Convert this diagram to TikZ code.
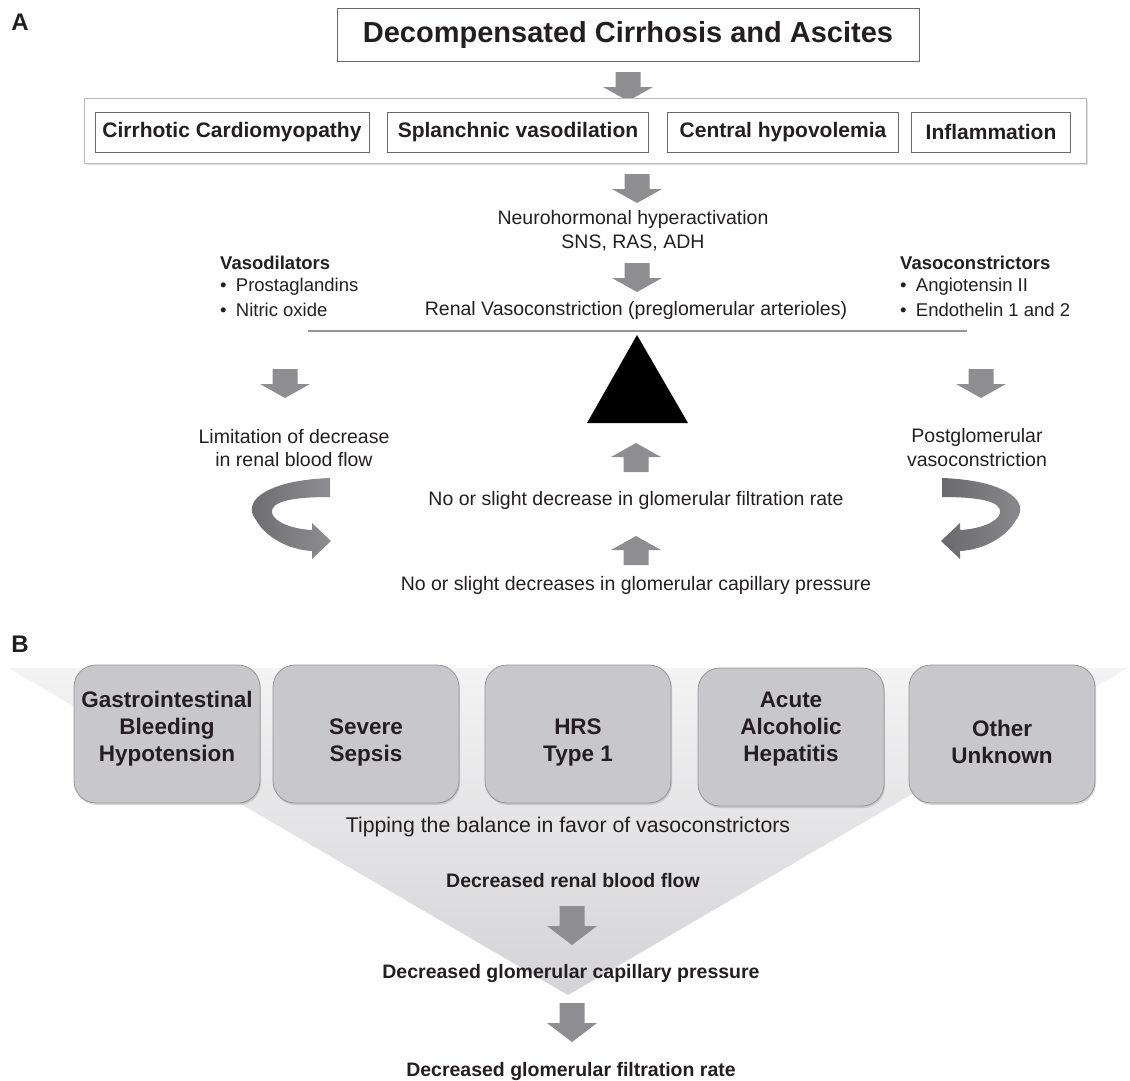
\documentclass[tikz,border=0pt]{standalone}
\usepackage{fontspec}
\setmainfont{Liberation Sans}
\usetikzlibrary{shadows}
\definecolor{ink}{RGB}{35,31,32}
\definecolor{arr}{RGB}{142,142,144}
\definecolor{arrdark}{RGB}{105,105,107}
\definecolor{frame}{RGB}{105,105,105}
\definecolor{cont}{RGB}{185,185,185}
\definecolor{rule}{RGB}{150,150,150}
\definecolor{cause}{RGB}{200,200,202}
\definecolor{causeb}{RGB}{150,150,152}
\definecolor{funtop}{RGB}{243,243,244}
\definecolor{funbot}{RGB}{212,212,214}
\newcommand{\fsz}[2]{\fontsize{#1}{#2}\selectfont}

\tikzset{
  every node/.style={text=ink, inner sep=0pt},
  lbl/.style={font=\fsz{24}{28}\bfseries},
  headbox/.style={draw=frame, line width=1pt, minimum width=582, minimum height=53, font=\fsz{29}{34}\bfseries},
  factor/.style={draw=frame, line width=.8pt, minimum height=40, font=\fsz{21}{25}\bfseries},
  plain/.style={font=\fsz{19.5}{24}},
  hdr/.style={anchor=west, font=\fsz{18.5}{22}\bfseries},
  item/.style={anchor=west, font=\fsz{18.5}{22}},
  cause/.style={draw=causeb, line width=.8pt, fill=cause, rounded corners=22, minimum width=186, minimum height=138,
    drop shadow={shadow xshift=1pt, shadow yshift=-2pt, opacity=.3}},
  causetxt/.style={align=center, font=\fsz{22.5}{27}\bfseries},
  result/.style={font=\fsz{19.5}{24}\bfseries},
  pics/dnarrow/.style 2 args={code={
    \fill[arr] (-12.5,0) -- (12.5,0) -- (12.5,#1-#2) -- (25,#1-#2) -- (0,#1) -- (-25,#1-#2) -- (-12.5,#1-#2) -- cycle;}},
  pics/turnarrow/.style={code={
    \shade[left color=arrdark, right color=arr] (77,0) .. controls (17,2) and (-13,22) .. (3,42)
      .. controls (13,60) and (37,72) .. (59,73) -- (59,81) -- (78,63) -- (59,45) -- (59,52)
      .. controls (39,51) and (21,44) .. (19,35) .. controls (17,24) and (37,19) .. (77,19) -- cycle;}}
}

\begin{document}
\begin{tikzpicture}[x=1pt, y=-1pt]
\useasboundingbox (0,0) rectangle (1130,1080);

% panel A
\node[lbl] (lblA) at (20,22) {A};
\node[headbox] (dca) at (628,35) {Decompensated Cirrhosis and Ascites};
\pic (ar1) at (628,72) {dnarrow={29}{14}};
\node[draw=cont, line width=.8pt, fill=white, minimum width=1002, minimum height=65,
  drop shadow={shadow xshift=1.5pt, shadow yshift=-1.5pt, opacity=.25}] (grp) at (585,131) {};
\node[factor, minimum width=274] (card) at (232,132) {Cirrhotic Cardiomyopathy};
\node[factor, minimum width=261] (spl) at (518,132) {Splanchnic vasodilation};
\node[factor, minimum width=231] (hypo) at (783,132) {Central hypovolemia};
\node[factor, minimum width=159] (infl) at (991,132) {Inflammation};
\pic (ar2) at (637,174) {dnarrow={29}{14}};
\node[plain] (neuro) at (633,219) {Neurohormonal hyperactivation};
\node[plain] (sns) at (633,243) {SNS, RAS, ADH};
\pic (ar3) at (637,263) {dnarrow={29}{14}};
\node[plain] (renal) at (636,310) {Renal Vasoconstriction (preglomerular arterioles)};

\node[hdr] (vdil) at (220,263) {Vasodilators};
\node[item] (pgl) at (220,287) {\textbullet\enspace Prostaglandins};
\node[item] (nox) at (220,310) {\textbullet\enspace Nitric oxide};
\node[hdr] (vcon) at (900,263) {Vasoconstrictors};
\node[item] (ang) at (900,287) {\textbullet\enspace Angiotensin II};
\node[item] (endo) at (900,310) {\textbullet\enspace Endothelin 1 and 2};

% balance beam and fulcrum
\coordinate (beamL) at (308,331);
\coordinate (beamR) at (967,331);
\draw[rule, line width=1.5pt] (beamL) -- (beamR);
\fill[black] (637,335) -- (688,423) -- (587,423) -- cycle;

\pic (arL) at (285,369) {dnarrow={29}{14}};
\pic (arR) at (981,369) {dnarrow={29}{14}};
\node[plain] (lim1) at (294,437) {Limitation of decrease};
\node[plain] (lim2) at (294,460) {in renal blood flow};
\node[plain] (post1) at (977,437) {Postglomerular};
\node[plain] (post2) at (977,460) {vasoconstriction};
\pic at (253,478) {turnarrow};
\pic[xscale=-1] at (1019,478) {turnarrow};

\pic[rotate=180] (up1) at (636,472) {dnarrow={29}{14}};
\node[plain] (gfr) at (636,500) {No or slight decrease in glomerular filtration rate};
\pic[rotate=180] (up2) at (636,565) {dnarrow={29}{14}};
\node[plain] (gcp) at (636,585) {No or slight decreases in glomerular capillary pressure};

% panel B
\node[lbl] (lblB) at (20,644) {B};
\shade[top color=funtop, bottom color=funbot] (8,668) -- (1128,668) -- (568,995) -- cycle;

\node[cause] (gib) at (167,734) {};
\node[cause] (sep) at (366,734) {};
\node[cause] (hrs) at (578,734) {};
\node[cause] (aah) at (791,737) {};
\node[cause] (oth) at (1002,734) {};
\node[causetxt] at (167,729) {Gastrointestinal\\Bleeding\\Hypotension};
\node[causetxt] at (366,742) {Severe\\Sepsis};
\node[causetxt] at (578,742) {HRS\\Type 1};
\node[causetxt] at (791,729) {Acute\\Alcoholic\\Hepatitis};
\node[causetxt] at (1002,742) {Other\\Unknown};

\node[font=\fsz{21.3}{25}] (tip) at (568,827) {Tipping the balance in favor of vasoconstrictors};
\node[result] (rbf) at (573,881) {Decreased renal blood flow};
\pic (br1) at (572,906) {dnarrow={39}{19}};
\node[result] (dgcp) at (571,973) {Decreased glomerular capillary pressure};
\pic (br2) at (572,1003) {dnarrow={39}{19}};
\node[result] (dgfr) at (571,1071) {Decreased glomerular filtration rate};
\end{tikzpicture}
\end{document}
